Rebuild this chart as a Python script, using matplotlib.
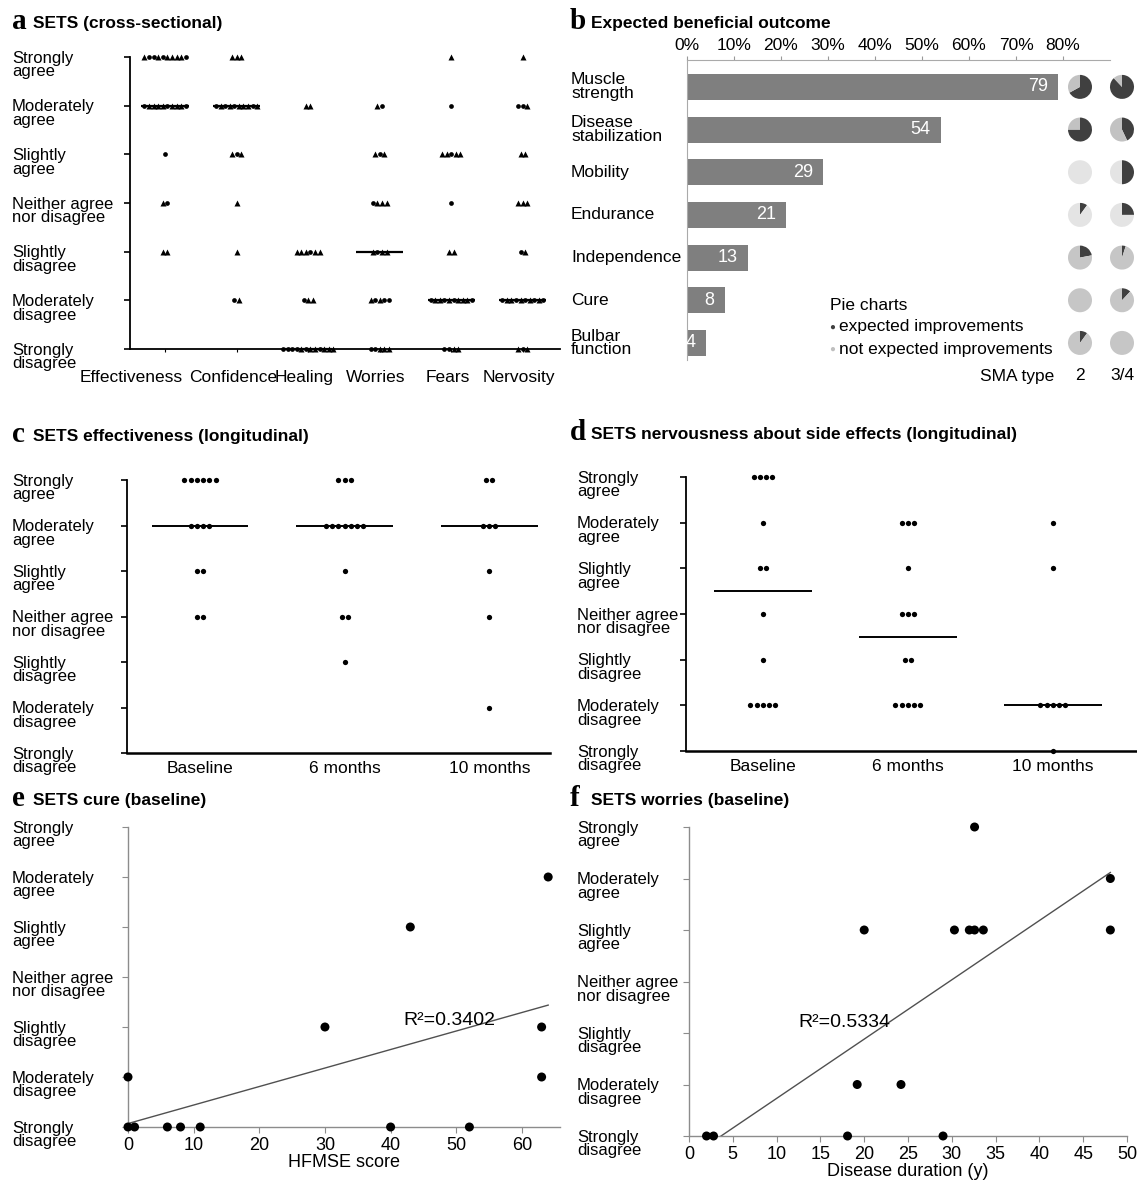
import numpy as np
import matplotlib
matplotlib.use("Agg")
import matplotlib.pyplot as plt
from matplotlib.transforms import blended_transform_factory, offset_copy

plt.rcParams['font.family'] = ['Liberation Sans', 'DejaVu Sans']

W, H = 1137, 1180

# ---------------- data ----------------
level_names = ['Strongly\ndisagree', 'Moderately\ndisagree', 'Slightly\ndisagree',
               'Neither agree\nnor disagree', 'Slightly\nagree', 'Moderately\nagree',
               'Strongly\nagree']

# panel a: one string per answer level, Strongly agree -> Strongly disagree
# 'o' = SMA type 2, '^' = SMA type 3/4
items_a = ['Effectiveness', 'Confidence', 'Healing', 'Worries', 'Fears', 'Nervosity']
effectiveness = ['^oo^o^^^^o', 'o^^^^o^^^o', 'o', '^o', '^^', '', '']
confidence = ['^^^', 'o^o^o^^^o^', '^o^', '^', '^', 'o^', '']
healing = ['', '^^', '', '', '^^^o^^', 'o^^', 'oooo^o^^o^^^']
worries = ['', '^o', '^o^', 'o^^^', '^o^^', '^o^oo', 'oo^^^']
fears = ['^', 'o', '^^o^^', 'o', '^^', 'o^^o^o^^^o', 'oo^^']
nervosity = ['^', 'oo^', '^^', '^^^', 'o^', 'o^^o^o^o^o', '^o^']

# panel b
outcomes = ['Muscle\nstrength', 'Disease\nstabilization', 'Mobility', 'Endurance',
            'Independence', 'Cure', 'Bulbar\nfunction']
outcome_pct = [79, 54, 29, 21, 13, 8, 4]
pie_sma2 = [0.67, 0.75, 0.0, 0.10, 0.22, 0.0, 0.10]
pie_sma34 = [0.88, 0.43, 0.50, 0.25, 0.05, 0.12, 0.0]
pie_light = ['#c2c2c2', '#c2c2c2', '#e4e4e4', '#e4e4e4', '#c6c6c6', '#c6c6c6', '#c6c6c6']

# panels c, d: counts per level, Strongly agree -> Strongly disagree
timepoints = ['Baseline', '6 months', '10 months']
eff_counts = [[6, 4, 2, 2, 0, 0, 0],
              [3, 7, 1, 2, 1, 0, 0],
              [2, 3, 1, 1, 0, 1, 0]]
nerv_counts = [[4, 1, 2, 1, 1, 5, 0],
               [0, 3, 1, 3, 2, 5, 0],
               [0, 1, 1, 0, 0, 5, 1]]

# panel e
hfmse = [0, 1, 6, 8, 11, 40, 52, 0, 63, 30, 63, 43, 64]
cure = [1, 1, 1, 1, 1, 1, 1, 2, 2, 3, 3, 5, 6]

# panel f
duration = [2.0, 2.8, 18.1, 29.0, 19.2, 24.2, 20.0, 30.3, 32.0, 32.6, 33.6, 48.1, 48.1, 32.6]
worries_f = [1, 1, 1, 1, 2, 2, 5, 5, 5, 5, 5, 5, 6, 7]

# ---------------- helpers ----------------
fig = plt.figure(figsize=(W / 100, H / 100), dpi=100)


def px_axes(left, top, right, bottom):
    return fig.add_axes([left / W, 1 - bottom / H, (right - left) / W, (bottom - top) / H])


def level_labels(ax, x_px, dy=-8):
    tr = blended_transform_factory(fig.transFigure, ax.transData)
    tr = offset_copy(tr, fig=fig, y=dy, units='dots')
    for lev, lab in zip(range(1, 8), level_names):
        ax.text(x_px / W, lev, lab, transform=tr, ha='left', va='center',
                fontsize=12, linespacing=0.9)


def title(x_px, y_px, letter, text):
    fig.text(x_px / W, 1 - y_px / H, letter, family='Liberation Serif', weight='bold',
             fontsize=21, va='baseline')
    fig.text((x_px + 21) / W, 1 - (y_px - 1) / H, text, weight='bold', fontsize=12.5,
             va='baseline')


def dot_column(ax, x, counts, step, ms=3.8):
    vals = []
    for lev, n in zip(range(7, 0, -1), counts):
        if n:
            off = (np.arange(n) - (n - 1) / 2) * step
            ax.plot(x + off, [lev] * n, 'o', color='black', ms=ms, mec='none',
                    clip_on=False, zorder=3)
        vals += [lev] * n
    return np.median(vals)


def likert_axes(ax):
    ax.set_ylim(1, 7)
    ax.set_yticks(range(1, 8))
    ax.set_yticklabels([])
    for s in ['top', 'right']:
        ax.spines[s].set_visible(False)
    ax.spines['left'].set_linewidth(1.3)
    ax.spines['bottom'].set_linewidth(1.8)
    ax.tick_params(axis='y', length=4, width=1.2, direction='out')
    ax.tick_params(axis='x', length=0, labelsize=12, pad=6)


# ---------------- a ----------------
ax = px_axes(130, 57, 560, 349)
likert_axes(ax)
ax.spines['bottom'].set_linewidth(1.3)
ax.set_xlim(-0.49, 5.52)
cols_a = [effectiveness, confidence, healing, worries, fears, nervosity]
for i, col in enumerate(cols_a):
    vals = []
    for lev, s in zip(range(7, 0, -1), col):
        n = len(s)
        off = (np.arange(n) - (n - 1) / 2) * 0.064
        for k, m in enumerate(s):
            ax.plot(i + off[k], lev, m, color='black', mec='none',
                    ms=3.4 if m == 'o' else 3.8, clip_on=False, zorder=3)
        vals += [lev] * n
    med = np.median(vals)
    ax.hlines(med, i - 0.33, i + 0.33, color='black', lw=1.6, zorder=2, clip_on=False)
ax.set_xticks(range(6))
ax.set_xticklabels([])
ax.tick_params(axis='x', length=2)
item_tr = offset_copy(ax.get_xaxis_transform(), fig=fig, y=-33, units='dots')
for i, name in enumerate(items_a):
    if i == 0:
        ax.text(i + 0.25, 0, name, transform=item_tr, ha='right', va='baseline', fontsize=12.5)
    else:
        ax.text(i - 0.05, 0, name, transform=item_tr, ha='center', va='baseline', fontsize=12.5)
level_labels(ax, 12)
title(12, 29, 'a', 'SETS (cross-sectional)')

# ---------------- b ----------------
axb = px_axes(687, 60, 1110, 360)
axb.barh(range(len(outcome_pct)), outcome_pct, height=0.61, color='#7f7f7f')
axb.set_xlim(0, 90)
axb.set_ylim(6.4, -0.63)
axb.xaxis.tick_top()
axb.set_xticks(range(0, 90, 10))
axb.set_xticklabels([f'{v}%' for v in range(0, 90, 10)], fontsize=12.5)
axb.tick_params(axis='x', length=3, color='#999999', pad=2)
axb.set_yticks([])
for s in ['bottom', 'right']:
    axb.spines[s].set_visible(False)
for s in ['top', 'left']:
    axb.spines[s].set_color('#aaaaaa')
    axb.spines[s].set_linewidth(0.8)
lab_tr = offset_copy(axb.transData, fig=fig, x=-10, units='dots')
for i, v in enumerate(outcome_pct):
    axb.text(v, i, str(v), transform=lab_tr, ha='right', va='center', color='white',
             fontsize=13)
name_tr = blended_transform_factory(fig.transFigure, axb.transData)
for i, name in enumerate(outcomes):
    axb.text(571 / W, i, name, transform=name_tr, ha='left', va='center', fontsize=12.5,
             linespacing=0.9)

dark = '#404040'
fig.canvas.draw()
for i in range(len(outcomes)):
    _, yd = axb.transData.transform((0, i))
    for cx, frac in [(1080, pie_sma2[i]), (1122, pie_sma34[i])]:
        r = 15
        pax = fig.add_axes([(cx - r) / W, (yd - r) / H, 2 * r / W, 2 * r / H])
        if frac > 0:
            pax.pie([frac, 1 - frac], colors=[dark, pie_light[i]], startangle=90,
                    counterclock=False)
        else:
            pax.pie([1], colors=[pie_light[i]])
        pax.set_aspect('equal')

fig.text(830 / W, 1 - 305 / H, 'Pie charts', fontsize=12.5, va='center')
fig.text(829 / W, 1 - 327 / H, '●', color=dark, fontsize=7, va='center')
fig.text(839 / W, 1 - 327 / H, 'expected improvements', fontsize=12.5, va='center')
fig.text(829 / W, 1 - 349 / H, '●', color='#bfbfbf', fontsize=7, va='center')
fig.text(839 / W, 1 - 349 / H, 'not expected improvements', fontsize=12.5, va='center')
fig.text(980 / W, 1 - 376 / H, 'SMA type', fontsize=12.5, va='center')
fig.text(1080 / W, 1 - 376 / H, '2', fontsize=12.5, va='center', ha='center')
fig.text(1122 / W, 1 - 376 / H, '3/4', fontsize=12.5, va='center', ha='center')
title(570, 29, 'b', 'Expected beneficial outcome')

# ---------------- c ----------------
axc = px_axes(127, 480, 550, 753)
likert_axes(axc)
axc.set_xlim(-0.505, 2.42)
for i, counts in enumerate(eff_counts):
    med = dot_column(axc, i, counts, 0.043)
    axc.hlines(med, i - 0.335, i + 0.335, color='black', lw=1.4, zorder=2)
axc.set_xticks(range(3))
axc.set_xticklabels(timepoints, fontsize=12.5)
level_labels(axc, 12)
title(12, 442, 'c', 'SETS effectiveness (longitudinal)')

# ---------------- d ----------------
axd = px_axes(686, 477, 1137, 751)
likert_axes(axd)
axd.set_xlim(-0.53, 2.58)
for i, counts in enumerate(nerv_counts):
    med = dot_column(axd, i, counts, 0.043)
    axd.hlines(med, i - 0.34, i + 0.34, color='black', lw=1.4, zorder=2)
axd.set_xticks(range(3))
axd.set_xticklabels(timepoints, fontsize=12.5)
level_labels(axd, 577)
title(570, 440, 'd', 'SETS nervousness about side effects (longitudinal)')


# ---------------- e, f ----------------
def scatter_panel(ax, x, y, xmax, xstep, xlabel, r2_text, r2_pos):
    ax.set_ylim(1, 7)
    ax.set_xlim(0, xmax)
    ax.scatter(x, y, s=42, color='black', zorder=3, clip_on=False, edgecolors='none')
    slope, icpt = np.polyfit(x, y, 1)
    xs = np.array([min(x), max(x)])
    ax.plot(xs, icpt + slope * xs, color='#505050', lw=1)
    ax.text(r2_pos[0], r2_pos[1], r2_text, fontsize=14, va='baseline')
    for s in ['top', 'right']:
        ax.spines[s].set_visible(False)
    for s in ['left', 'bottom']:
        ax.spines[s].set_color('#8c8c8c')
        ax.spines[s].set_linewidth(1)
    ax.set_yticks(range(1, 8))
    ax.set_yticklabels([])
    ax.set_xticks(np.arange(0, xmax + 0.01, xstep))
    ax.tick_params(axis='both', length=4, color='#8c8c8c', direction='out', labelsize=13)
    ax.tick_params(axis='x', pad=3)
    ax.set_xlabel(xlabel, fontsize=13, labelpad=0)


axe = px_axes(128, 827, 560, 1127)
scatter_panel(axe, hfmse, cure, 65.8, 10, 'HFMSE score', 'R²=0.3402', (42, 3.04))
axe.set_xticks(range(0, 61, 10))
level_labels(axe, 12)
title(12, 806, 'e', 'SETS cure (baseline)')

axf = px_axes(689, 827, 1127, 1136)
scatter_panel(axf, duration, worries_f, 50, 5, 'Disease duration (y)', 'R²=0.5334', (12.5, 3.12))
level_labels(axf, 577)
title(570, 806, 'f', 'SETS worries (baseline)')

fig.savefig('out.png', dpi=100)
